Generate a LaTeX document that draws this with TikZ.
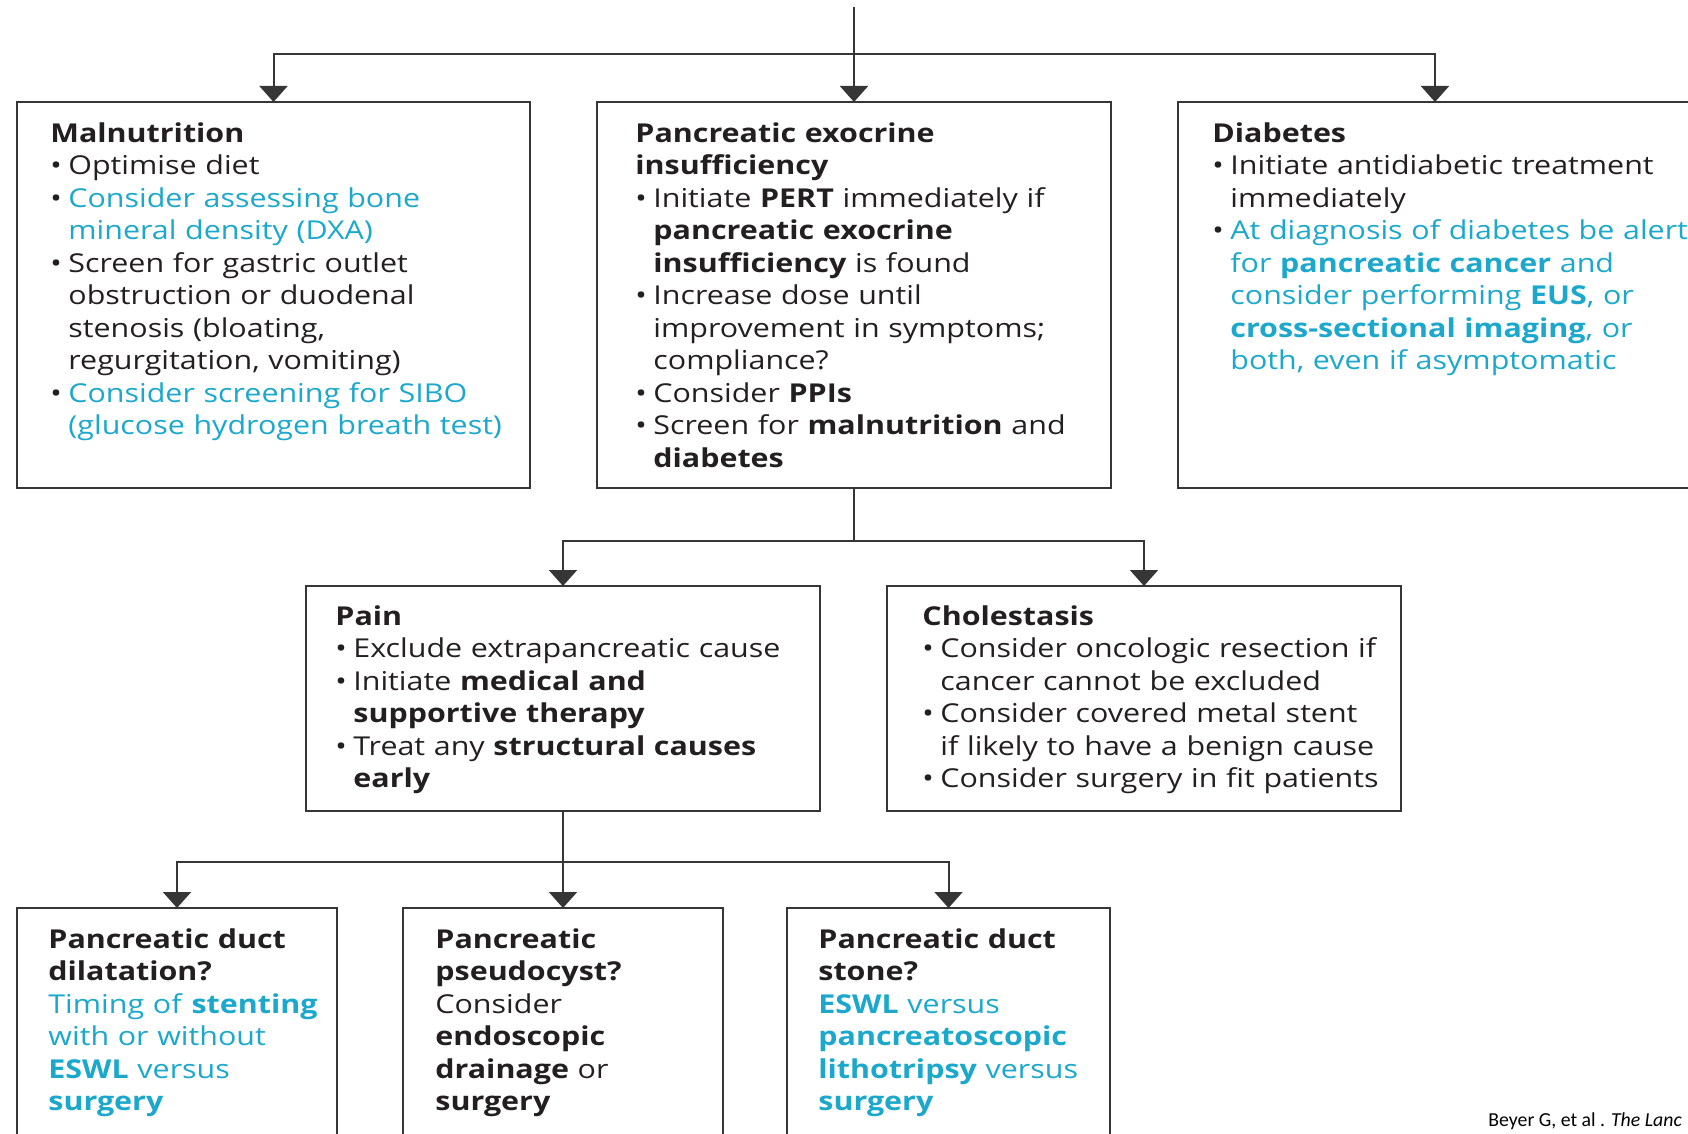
\documentclass[tikz,border=0pt]{standalone}
\usepackage{fontspec}
\setmainfont{Open Sans}[FakeStretch=1.17]
\newfontfamily\citefont{Carlito}
\usetikzlibrary{arrows.meta,positioning}

\definecolor{ink}{HTML}{231F20}
\definecolor{lancetblue}{RGB}{27,168,204}
\definecolor{frame}{HTML}{363636}

% bullet item with hanging indent
\newcommand{\itm}{\par\noindent\hangindent=9pt\hangafter=1\makebox[9pt][l]{\textbullet}}
\newcommand{\blu}[1]{\textcolor{lancetblue}{#1}}

\begin{document}
\begin{tikzpicture}[x=0.5pt,y=-0.5pt]
\tikzset{
  box/.style={draw=frame, line width=1.3pt, anchor=north west, inner sep=0pt, outer sep=0pt},
  txt/.style={text width=#1, inner sep=0pt, text=ink,
    font=\fontsize{13pt}{16.25pt}\selectfont},
  arr/.style={draw=frame, line width=1pt, -{Triangle[width=14pt,length=8pt]}},
  link/.style={draw=frame, line width=1pt}
}
\useasboundingbox (0,0) rectangle (1688,1134);

% first row
\node[box, minimum width=256.5pt, minimum height=193pt] (mal) at (17,102) {};
\node[box, minimum width=257pt, minimum height=193pt, right=33.5pt of mal] (pei) {};
\node[box, minimum width=257pt, minimum height=193pt, right=33.5pt of pei] (dia) {};

% second row
\node[box, minimum width=257pt, minimum height=112.5pt] (pain) at (306,586) {};
\node[box, minimum width=257pt, minimum height=112.5pt, right=33.5pt of pain] (chol) {};

% third row
\node[box, minimum width=160pt, minimum height=140pt] (dil) at (17,908) {};
\node[box, minimum width=160pt, minimum height=140pt, right=33pt of dil] (cyst) {};
\node[box, minimum width=161.5pt, minimum height=140pt, right=32pt of cyst] (stone) {};

\node[txt=300pt, below right=10pt and 16.5pt of mal.north west] (maltext) {%
  \noindent\textbf{Malnutrition}
  \itm Optimise diet
  \itm \blu{Consider assessing bone\newline mineral density (DXA)}
  \itm Screen for gastric outlet\newline obstruction or duodenal\newline stenosis (bloating,\newline regurgitation, vomiting)
  \itm \blu{Consider screening for SIBO\newline (glucose hydrogen breath test)}\par};

\node[txt=300pt, below right=10pt and 19pt of pei.north west] (peitext) {%
  \noindent\textbf{Pancreatic exocrine\newline insufficiency}
  \itm Initiate \textbf{PERT} immediately if\newline \textbf{pancreatic exocrine\newline insufficiency} is found
  \itm Increase dose until\newline improvement in symptoms;\newline compliance?
  \itm Consider \textbf{PPIs}
  \itm Screen for \textbf{malnutrition} and\newline \textbf{diabetes}\par};

\node[txt=300pt, below right=10pt and 17pt of dia.north west] (diatext) {%
  \noindent\textbf{Diabetes}
  \itm Initiate antidiabetic treatment\newline immediately
  \itm \blu{At diagnosis of diabetes be alert\newline for \textbf{pancreatic cancer} and\newline consider performing \textbf{EUS}, or\newline \textbf{cross-sectional imaging}, or\newline both, even if asymptomatic}\par};

\node[txt=300pt, below right=9.5pt and 14.5pt of pain.north west] (paintext) {%
  \noindent\textbf{Pain}
  \itm Exclude extrapancreatic cause
  \itm Initiate \textbf{medical and\newline supportive therapy}
  \itm Treat any \textbf{structural causes\newline early}\par};

\node[txt=300pt, below right=9.5pt and 17.5pt of chol.north west] (choltext) {%
  \noindent\textbf{Cholestasis}
  \itm Consider oncologic resection if\newline cancer cannot be excluded
  \itm Consider covered metal stent\newline if likely to have a benign cause
  \itm Consider surgery in fit patients\par};

\node[txt=200pt, below right=10pt and 15.5pt of dil.north west] (diltext) {%
  \noindent\textbf{Pancreatic duct\newline dilatation?}\newline
  \blu{Timing of \textbf{stenting}\newline with or without\newline \textbf{ESWL} versus\newline \textbf{surgery}}\par};

\node[txt=200pt, below right=10pt and 16pt of cyst.north west] (cysttext) {%
  \noindent\textbf{Pancreatic\newline pseudocyst?}\newline
  Consider\newline \textbf{endoscopic\newline drainage} or\newline \textbf{surgery}\par};

\node[txt=200pt, below right=10pt and 15.5pt of stone.north west] (stonetext) {%
  \noindent\textbf{Pancreatic duct\newline stone?}\newline
  \blu{\textbf{ESWL} versus\newline \textbf{pancreatoscopic\newline lithotripsy} versus\newline \textbf{surgery}}\par};

\node[anchor=base west, inner sep=0pt, text=black,
  font=\citefont\fontsize{9.9pt}{12pt}\selectfont] (cite) at (1488,1126)
  {Beyer G, et al . \textit{The Lanc}};

% connectors
\coordinate (in) at (pei.north |- 0,7);
\coordinate (fork1) at (pei.north |- 0,54);
\draw[arr] (in) -- (pei.north);
\draw[arr] (fork1) -| (mal.north);
\draw[arr] (fork1) -| (dia.north);

\coordinate (fork2) at (pei.south |- 0,541);
\draw[link] (pei.south) -- (fork2);
\draw[arr] (fork2) -| (pain.north);
\draw[arr] (fork2) -| (chol.north);

\coordinate (fork3) at (pain.south |- 0,862);
\draw[arr] (pain.south) -- (pain.south |- cyst.north);
\draw[arr] (fork3) -| (dil.north);
\draw[arr] (fork3) -| (stone.north);
\end{tikzpicture}
\end{document}
